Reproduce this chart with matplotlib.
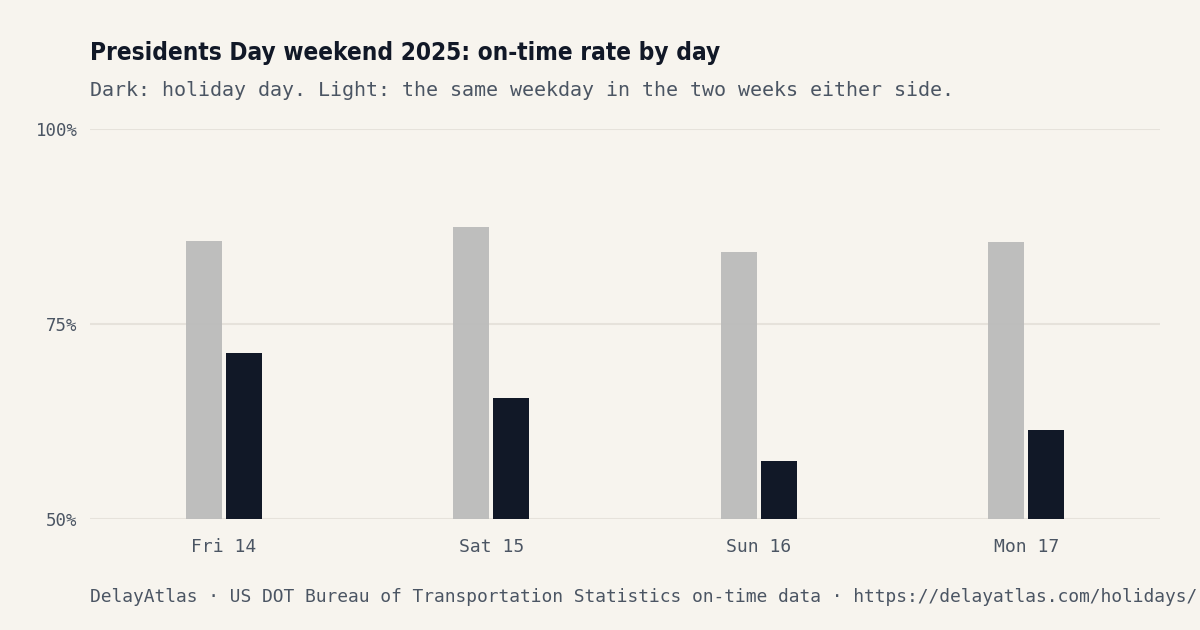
import matplotlib
matplotlib.use("Agg")
import matplotlib.pyplot as plt

# data
days = ["Fri 14", "Sat 15", "Sun 16", "Mon 17"]
baseline_rate = [85.6, 87.4, 84.2, 85.5]   # same weekday, two weeks either side
holiday_rate = [71.3, 65.5, 57.4, 61.4]    # the holiday day itself
y_ticks = [50, 75, 100]

BG = "#f7f4ee"
INK = "#111827"
MUTED = "#4b5563"
GRID = "#e6e2db"

mono = ["DejaVu Sans Mono"]

fig = plt.figure(figsize=(12, 6.3), dpi=100, facecolor=BG)
ax = fig.add_axes([90/1200, 1-519/630, 1070/1200, (519-129)/630])
ax.set_facecolor(BG)

w = 0.1346
gap = 0.015
x = list(range(len(days)))
ax.bar([i - w/2 - gap/2 for i in x], [v - 50 for v in baseline_rate], bottom=50,
       width=w, color="#bbbbbb", alpha=0.95, zorder=2)
ax.bar([i + w/2 + gap/2 for i in x], [v - 50 for v in holiday_rate], bottom=50,
       width=w, color=INK, zorder=3)

ax.set_xlim(-0.5, len(days) - 0.5)
ax.set_ylim(50, 100)
ax.set_yticks(y_ticks)
ax.set_yticklabels([f"{t}%" for t in y_ticks], family=mono, fontsize=12.5, color=MUTED)
ax.set_xticks(x)
ax.set_xticklabels(days, family=mono, fontsize=13, color=MUTED)
ax.tick_params(axis="both", length=0)
ax.tick_params(axis="y", pad=9)
ax.tick_params(axis="x", pad=14)
ax.grid(axis="y", color=GRID, linewidth=1.5, zorder=1)
ax.set_axisbelow(True)
for s in ax.spines.values():
    s.set_visible(False)

t = fig.text(90/1200, 1-60/630, "Presidents Day weekend 2025: on-time rate by day",
             family="DejaVu Sans", stretch="condensed", weight="bold",
             fontsize=24, color=INK, va="baseline")
# squeeze the title to the width it has in the reference
fig.canvas.draw()
bb = t.get_window_extent()
t.set_fontsize(24 * 630 / bb.width)

fig.text(90/1200, 1-96/630,
         "Dark: holiday day. Light: the same weekday in the two weeks either side.",
         family=mono, fontsize=14.4, color=MUTED, va="baseline")
fig.text(90/1200, 1-602/630,
         "DelayAtlas · US DOT Bureau of Transportation Statistics on-time data · https://delayatlas.com/holidays/",
         family=mono, fontsize=12.85, color=MUTED, va="baseline")

fig.savefig("out.png", dpi=100, facecolor=BG)
